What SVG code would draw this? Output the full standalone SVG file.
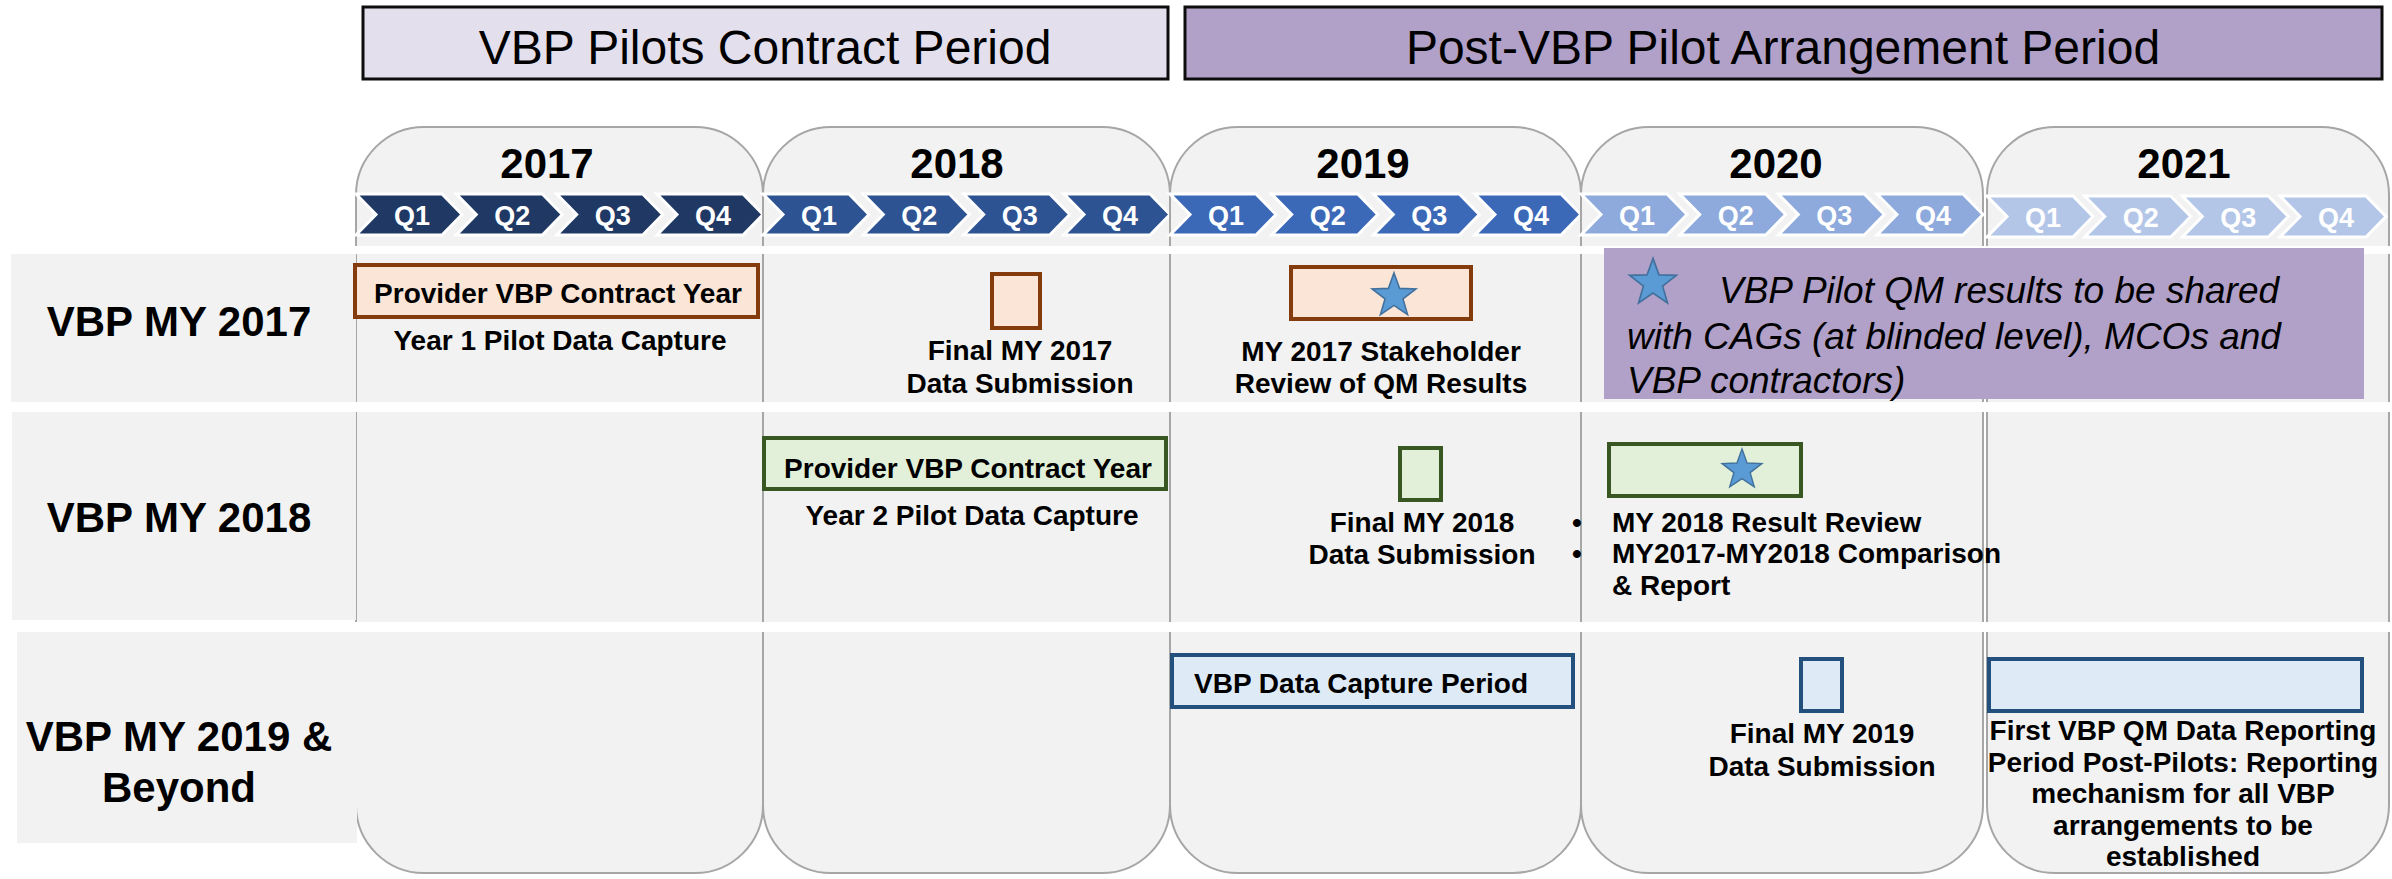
<svg xmlns="http://www.w3.org/2000/svg" xmlns:xlink="http://www.w3.org/1999/xlink" width="2392" height="879" viewBox="0 0 2392 879">
<style>
text{font-family:"Liberation Sans",Arial,sans-serif;fill:#000}
.title{font-size:48px;text-anchor:middle}
.col{fill:#F2F2F2;stroke:#A6A6A6;stroke-width:2}
.yr{font-size:42px;font-weight:bold;text-anchor:middle}
.q{font-size:27px;font-weight:bold;fill:#fff;text-anchor:middle}
.chev{stroke:#fff;stroke-width:3}
.lbl{font-size:42px;font-weight:bold;text-anchor:middle}
.t{font-size:28px;font-weight:bold}
.m{text-anchor:middle}
.brn{fill:#FBE5D6;stroke:#843C0C;stroke-width:4}
.grn{fill:#E2F0D9;stroke:#385723;stroke-width:4}
.blu{fill:#DEEBF7;stroke:#24507E;stroke-width:4}
.star{fill:#5B9BD5;stroke:#41719C;stroke-width:1.5}
.it{font-size:37px;font-style:italic}
.gray{fill:#F2F2F2}
.white{fill:#fff}
</style>
<defs>
<path id="chev" d="M0,0 H86 L106,20.5 L86,41 H0 L20,20.5 Z"/>
<path id="star" d="M0,-22 L5.29,-7.28 L20.92,-6.8 L8.56,2.78 L12.93,17.8 L0,9 L-12.93,17.8 L-8.56,2.78 L-20.92,-6.8 L-5.29,-7.28 Z"/>
</defs>
<rect width="2392" height="879" fill="#fff"/>

<g id="period-titles">
<g id="title-pilots">
<rect x="363" y="7" width="805" height="72" fill="#E4DFEC" stroke="#0D0D0D" stroke-width="3"/>
<text class="title" x="765" y="64">VBP Pilots Contract Period</text>
</g>
<g id="title-post">
<rect x="1185" y="7" width="1197" height="72" fill="#B1A0C7" stroke="#0D0D0D" stroke-width="3"/>
<text class="title" x="1783" y="64">Post-VBP Pilot Arrangement Period</text>
</g>
</g>

<g id="columns">
<g id="col-2017">
<rect class="col" x="356" y="127" width="407" height="746" rx="68" ry="68"/>
<text class="yr" x="547" y="178">2017</text>
<use href="#chev" class="chev" x="356" y="194" fill="#203864"/>
<use href="#chev" class="chev" x="456.3" y="194" fill="#203864"/>
<use href="#chev" class="chev" x="556.7" y="194" fill="#203864"/>
<use href="#chev" class="chev" x="657" y="194" fill="#203864"/>
<text class="q" x="412" y="225">Q1</text>
<text class="q" x="512.3" y="225">Q2</text>
<text class="q" x="612.7" y="225">Q3</text>
<text class="q" x="713" y="225">Q4</text>
</g>
<g id="col-2018">
<rect class="col" x="763" y="127" width="407" height="746" rx="68" ry="68"/>
<text class="yr" x="957" y="178">2018</text>
<use href="#chev" class="chev" x="763" y="194" fill="#2E5393"/>
<use href="#chev" class="chev" x="863.3" y="194" fill="#2E5393"/>
<use href="#chev" class="chev" x="963.7" y="194" fill="#2E5393"/>
<use href="#chev" class="chev" x="1064" y="194" fill="#2E5393"/>
<text class="q" x="819" y="225">Q1</text>
<text class="q" x="919.3" y="225">Q2</text>
<text class="q" x="1019.7" y="225">Q3</text>
<text class="q" x="1120" y="225">Q4</text>
</g>
<g id="col-2019">
<rect class="col" x="1170" y="127" width="411" height="746" rx="68" ry="68"/>
<text class="yr" x="1363" y="178">2019</text>
<use href="#chev" class="chev" x="1170" y="194" fill="#3C68B8"/>
<use href="#chev" class="chev" x="1271.7" y="194" fill="#3C68B8"/>
<use href="#chev" class="chev" x="1373.3" y="194" fill="#3C68B8"/>
<use href="#chev" class="chev" x="1475" y="194" fill="#3C68B8"/>
<text class="q" x="1226" y="225">Q1</text>
<text class="q" x="1327.7" y="225">Q2</text>
<text class="q" x="1429.3" y="225">Q3</text>
<text class="q" x="1531" y="225">Q4</text>
</g>
<g id="col-2020">
<rect class="col" x="1581" y="127" width="402" height="746" rx="68" ry="68"/>
<text class="yr" x="1776" y="178">2020</text>
<use href="#chev" class="chev" x="1581" y="194" fill="#8EA9DB"/>
<use href="#chev" class="chev" x="1679.7" y="194" fill="#8EA9DB"/>
<use href="#chev" class="chev" x="1778.3" y="194" fill="#8EA9DB"/>
<use href="#chev" class="chev" x="1877" y="194" fill="#8EA9DB"/>
<text class="q" x="1637" y="225">Q1</text>
<text class="q" x="1735.7" y="225">Q2</text>
<text class="q" x="1834.3" y="225">Q3</text>
<text class="q" x="1933" y="225">Q4</text>
</g>
<g id="col-2021">
<rect class="col" x="1987" y="127" width="402" height="746" rx="68" ry="68"/>
<text class="yr" x="2184" y="178">2021</text>
<use href="#chev" class="chev" x="1987" y="196" fill="#B4C6E7"/>
<use href="#chev" class="chev" x="2084.7" y="196" fill="#B4C6E7"/>
<use href="#chev" class="chev" x="2182.3" y="196" fill="#B4C6E7"/>
<use href="#chev" class="chev" x="2280" y="196" fill="#B4C6E7"/>
<text class="q" x="2043" y="227">Q1</text>
<text class="q" x="2140.7" y="227">Q2</text>
<text class="q" x="2238.3" y="227">Q3</text>
<text class="q" x="2336" y="227">Q4</text>
</g>
</g>

<g id="row-separators">
<rect class="white" x="300" y="246" width="2092" height="8"/>
<rect class="white" x="0" y="402" width="2392" height="10"/>
<rect class="white" x="0" y="622" width="2392" height="10"/>
</g>

<g id="row-labels">
<g id="row-2017">
<rect class="gray" x="11" y="254" width="345" height="148"/>
<text class="lbl" x="179" y="336">VBP MY 2017</text>
</g>
<g id="row-2018">
<rect class="gray" x="12" y="412" width="344" height="208"/>
<text class="lbl" x="179" y="532">VBP MY 2018</text>
</g>
<g id="row-2019">
<rect class="gray" x="17" y="632" width="340" height="211"/>
<text class="lbl" x="179" y="751">VBP MY 2019 &amp;</text>
<text class="lbl" x="179" y="802">Beyond</text>
</g>
</g>

<g id="my2017-items">
<g id="my2017-contract">
<rect class="brn" x="355" y="265" width="403" height="52"/>
<text class="t m" x="558" y="303">Provider VBP Contract Year</text>
<text class="t m" x="560" y="350">Year 1 Pilot Data Capture</text>
</g>
<g id="my2017-final">
<rect class="brn" x="992" y="274" width="48" height="54"/>
<text class="t m" x="1020" y="360">Final MY 2017</text>
<text class="t m" x="1020" y="393">Data Submission</text>
</g>
<g id="my2017-review">
<rect class="brn" x="1291" y="267" width="180" height="52"/>
<use href="#star" class="star" transform="translate(1394,296) scale(1.05)"/>
<text class="t m" x="1381" y="361">MY 2017 Stakeholder</text>
<text class="t m" x="1381" y="393">Review of QM Results</text>
</g>
<g id="callout">
<rect x="1604" y="248" width="760" height="151" fill="#B1A0C7"/>
<use href="#star" class="star" transform="translate(1653,283) scale(1.12)"/>
<text class="it" x="1719" y="303">VBP Pilot QM results to be shared</text>
<text class="it" x="1627" y="349">with CAGs (at blinded level), MCOs and</text>
<text class="it" x="1627" y="393">VBP contractors)</text>
</g>
</g>

<g id="my2018-items">
<g id="my2018-contract">
<rect class="grn" x="764" y="438" width="402" height="51"/>
<text class="t m" x="968" y="478">Provider VBP Contract Year</text>
<text class="t m" x="972" y="525">Year 2 Pilot Data Capture</text>
</g>
<g id="my2018-final">
<rect class="grn" x="1400" y="448" width="41" height="52"/>
<text class="t m" x="1422" y="532">Final MY 2018</text>
<text class="t m" x="1422" y="564">Data Submission</text>
</g>
<g id="my2018-review">
<rect class="grn" x="1609" y="444" width="192" height="52"/>
<use href="#star" class="star" transform="translate(1742,470) scale(0.95)"/>
<text class="t" x="1572" y="532">•</text>
<text class="t" x="1612" y="532">MY 2018 Result Review</text>
<text class="t" x="1572" y="563">•</text>
<text class="t" x="1612" y="563">MY2017-MY2018 Comparison</text>
<text class="t" x="1612" y="595">&amp; Report</text>
</g>
</g>

<g id="my2019-items">
<g id="my2019-capture">
<rect class="blu" x="1172" y="655" width="401" height="52"/>
<text class="t" x="1194" y="693">VBP Data Capture Period</text>
</g>
<g id="my2019-final">
<rect class="blu" x="1801" y="659" width="41" height="52"/>
<text class="t m" x="1822" y="743">Final MY 2019</text>
<text class="t m" x="1822" y="776">Data Submission</text>
</g>
<g id="my2019-reporting">
<rect class="blu" x="1989" y="659" width="373" height="52"/>
<text class="t m" x="2183" y="740">First VBP QM Data Reporting</text>
<text class="t m" x="2183" y="772">Period Post-Pilots: Reporting</text>
<text class="t m" x="2183" y="803">mechanism for all VBP</text>
<text class="t m" x="2183" y="835">arrangements to be</text>
<text class="t m" x="2183" y="866">established</text>
</g>
</g>
</svg>
